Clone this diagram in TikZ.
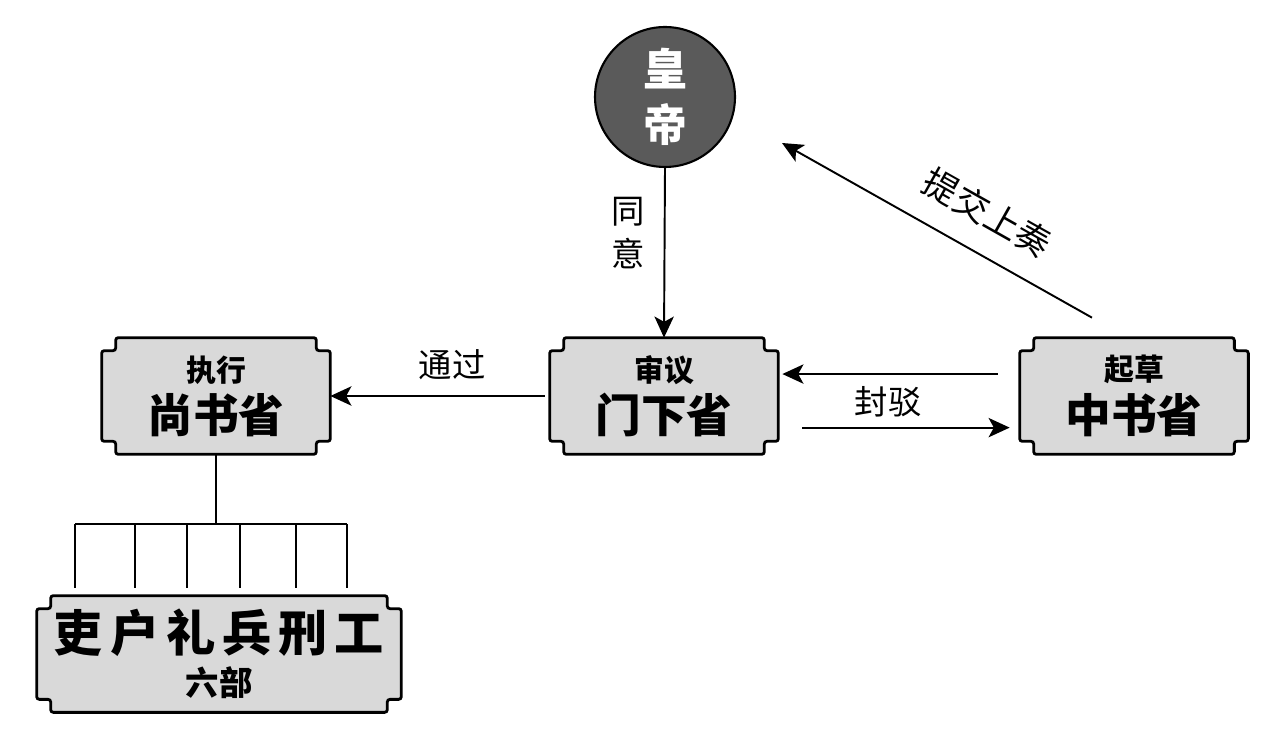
\documentclass[tikz,border=0pt]{standalone}
\usepackage{fontspec}
\newfontfamily\cjk{Noto Sans CJK SC}
\usetikzlibrary{arrows.meta,positioning,calc,backgrounds}
\definecolor{boxgray}{HTML}{D9D9D9}
\definecolor{throne}{HTML}{5A5A5A}

% frame with cut-in corners round an office node
\newcommand\notchframe[1]{%
  \begin{scope}[on background layer]
    \path[frame] ($(#1.north west)+(14,0)$) -- ($(#1.north east)+(-14,0)$) -- ++(0,13) -- ++(14,0)
      -- ($(#1.south east)+(0,-13)$) -- ++(-14,0) -- ++(0,13)
      -- ($(#1.south west)+(14,0)$) -- ++(0,-13) -- ++(-14,0)
      -- ($(#1.north west)+(0,13)$) -- ++(14,0) -- cycle;
  \end{scope}}
\newcommand\headtxt[1]{{\fontsize{17}{20}\selectfont #1}}
\newcommand\officetxt[1]{{\fontsize{26}{30}\selectfont #1}}

\begin{document}
\begin{tikzpicture}[
  x=0.02cm, y=-0.02cm,
  office/.style={minimum width=4.56cm,minimum height=2.32cm,align=center,inner sep=0pt,font=\cjk\bfseries},
  frame/.style={draw,fill=boxgray,line width=1.6pt,rounded corners=1.5pt},
  flow/.style={-{Stealth[length=12pt,width=11pt,inset=3pt]},line width=1.1pt},
  lbl/.style={font=\cjk\fontsize{19}{24}\selectfont,inner sep=0pt,align=center},
  link/.style={line width=1.1pt}
]
  \useasboundingbox (0,0) rectangle (1274,736);

  % emperor
  \node[circle,draw,line width=1.2pt,fill=throne,text=white,minimum size=2.8cm,inner sep=0pt,
        align=center,font=\cjk\bfseries\fontsize{25}{32}\selectfont] (emperor) at (665,97) {皇\\帝};

  % the three departments
  \node[office] (menxia)   at (664,396)  {\headtxt{审议}\\[4pt]\officetxt{门下省}};
  \node[office] (zhongshu) at (1134,396) {\headtxt{起草}\\[4pt]\officetxt{中书省}};
  \node[office] (shangshu) at (216,396)  {\headtxt{执行}\\[4pt]\officetxt{尚书省}};
  \node[office,minimum width=7.28cm] (liubu) at (219,654)
       {{\fontsize{28}{32}\selectfont 吏\hspace{4pt}户\hspace{4pt}礼\hspace{4pt}兵\hspace{4pt}刑\hspace{4pt}工}\\[5pt]
        {\fontsize{19}{24}\selectfont 六部}};
  \notchframe{menxia}
  \notchframe{zhongshu}
  \notchframe{shangshu}
  \notchframe{liubu}

  % labels
  \node[lbl] (agree)  at (628,233) {同\\意};
  \node[lbl] (pass)   at (452,365) {通过};
  \node[lbl] (reject) at (888,402) {封驳};

  % flows
  \draw[flow] (emperor.south) -- (menxia.north);
  \draw[flow,shorten <=2.8pt] (menxia.west) -- (shangshu.east);
  \draw[flow,shorten <=12.5pt,shorten >=2.3pt] ([yshift=12.5pt]zhongshu.west) -- ([yshift=12.5pt]menxia.east);
  \draw[flow,shorten <=13.6pt,shorten >=5.7pt] ([yshift=-18pt]menxia.east) -- ([yshift=-18pt]zhongshu.west);
  \draw[flow] ([shift={(-42,-20)}]zhongshu.north) -- node[lbl,pos=0.4,sloped,above=13pt,font=\cjk\fontsize{20}{24}\selectfont]{提交上奏}
       ([shift={(117,46)}]emperor.center);

  % the six ministries
  \coordinate (hub) at ([yshift=-39.7pt]shangshu.south);
  \draw[link] (shangshu.south) -- (hub);
  \draw[link] (75,524) -- (347,524);
  \foreach \x in {75,135,187,240,296,347}
    \draw[link] (\x,524) -- (\x,588);
\end{tikzpicture}
\end{document}
